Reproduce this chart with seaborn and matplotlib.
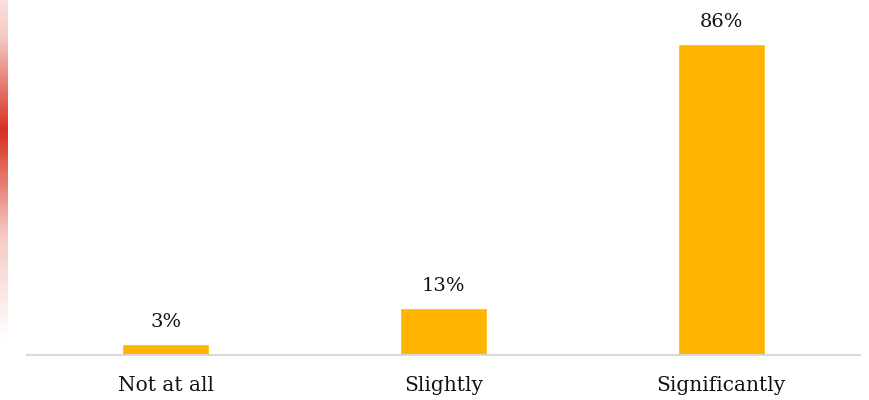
import numpy as np
import matplotlib
matplotlib.use("Agg")
import matplotlib.pyplot as plt
from matplotlib.colors import LinearSegmentedColormap
import seaborn as sns
import pandas as pd

categories = ["Not at all", "Slightly", "Significantly"]
values = [3, 13, 86]
value_labels = ["3%", "13%", "86%"]

sns.set_style("white")
plt.rcParams["font.family"] = ["DejaVu Serif", "Liberation Serif"]

fig = plt.figure(figsize=(8.69, 4.0), dpi=100)
ax = fig.add_axes([27 / 869, 45 / 400, 833 / 869, 355 / 400])

df = pd.DataFrame({"category": categories, "value": values})
sns.barplot(data=df, x="category", y="value", color="#FFB500", saturation=1,
            width=0.313, ax=ax)

ax.set_xlim(-0.5, 2.5)
ax.set_ylim(0, 98.2)
for patch, lab in zip(ax.patches, value_labels):
    ax.annotate(lab, (patch.get_x() + patch.get_width() / 2, patch.get_height()),
                xytext=(0, 9.5), textcoords="offset points", ha="center",
                va="bottom", fontsize=14, color="#111111")

ax.set_xlabel("")
ax.set_ylabel("")
ax.set_yticks([])
ax.tick_params(axis="x", length=0, labelsize=14.5, pad=15, colors="#111111")
for side in ["top", "left", "right"]:
    ax.spines[side].set_visible(False)
ax.spines["bottom"].set_color("#d9d9d9")
ax.spines["bottom"].set_linewidth(1.5)

# Red accent strip along the left edge
strip = fig.add_axes([0, 60 / 400, 7 / 869, 340 / 400])
t = np.linspace(0, 1, 256)
peak = 130 / 340
intensity = np.where(t < peak, 0.3 + 0.7 * t / peak,
                     1 - (t - peak) / (1 - peak))
intensity = np.clip(intensity, 0, 1)
cmap = LinearSegmentedColormap.from_list("accent", ["#ffffff", "#f6c9c4", "#d9301f"])
strip.imshow(intensity[:, None], aspect="auto", cmap=cmap, vmin=0, vmax=1)
strip.axis("off")

fig.savefig("out.png", dpi=100)
